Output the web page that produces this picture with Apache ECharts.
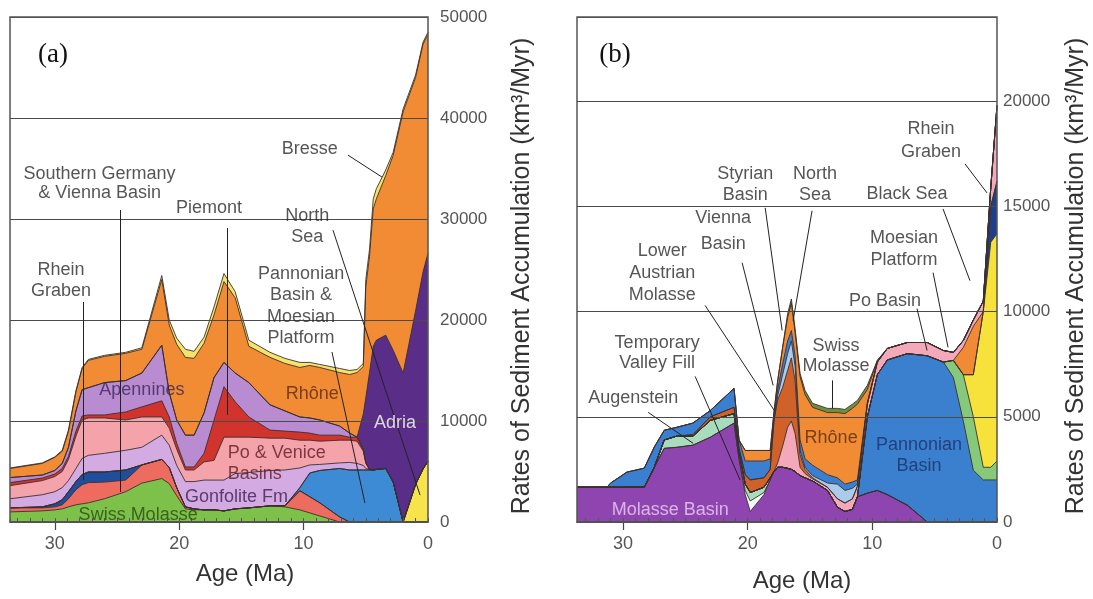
<!DOCTYPE html>
<html><head><meta charset="utf-8">
<script src="https://cdn.jsdelivr.net/npm/echarts@6/dist/echarts.min.js"></script>
<style>html,body{margin:0;padding:0;background:#fff}#c{width:1093px;height:599px}</style>
</head><body><div id="c"></div>
<script>
// ---------- Panel (a): ages (Ma) and layer thicknesses (km3/Myr) ----------
const agesA = [33.6,31,30,29.4,28.9,28.3,27.8,27.3,26,24.3,23,21.4,20.8,20.2,19.5,18.8,18,17.2,16.4,15.5,14.4,12.7,11.5,10.3,9.5,8.7,7.1,6.3,5.7,5.2,5.0,4.7,4.4,4.15,3.4,2.8,2.0,1.0,0.4,0];
const swissMolasseA = [1000,1100,1200,1300,1500,1700,1800,1900,2300,3000,3850,4300,3800,2600,1300,1200,1200,1200,1100,1300,1400,1600,1500,1200,900,600,0,0,0,0,0,0,0,0,0,0,0,0,0,0];
const sGermanyViennaA = [400,300,300,400,800,1500,1900,2000,1650,1150,1800,1900,1600,800,200,100,0,0,0,0,0,0,100,1900,1600,1300,500,0,0,0,0,0,0,0,0,0,0,0,0,0];
const rheinGrabenA = [0,100,300,500,700,800,1000,1050,1000,1000,0,0,0,0,0,0,0,0,0,0,0,0,0,0,0,0,0,0,0,0,0,0,0,0,0,0,0,0,0,0];
const pannonianA = [0,0,0,0,0,0,0,0,0,0,0,0,0,0,0,0,0,0,0,0,0,0,0,300,2350,3200,4800,5150,5150,5150,5150,5150,5150,5200,5300,3950,0,0,0,0];
const northSeaA = [0,0,0,0,0,0,0,0,0,0,0,0,0,0,0,0,0,0,0,0,0,0,0,0,0,0,0,0,0,0,0,0,0,0,0,0,0,3700,5250,6000];
const gonfoliteA = [900,1200,1200,1200,1100,1300,1600,1650,1850,1950,1750,2400,2200,2200,2500,2700,2950,2950,3050,3500,3500,3500,3550,1950,800,600,550,750,650,450,150,50,0,0,0,0,0,0,0,0];
const poVeniceA = [1300,1400,1500,1600,2100,3200,3800,3700,3500,3000,3000,1800,1700,1600,1150,1150,1800,1950,4250,3600,3500,3200,3150,2750,2450,2300,2250,2200,2200,1400,500,0,0,0,0,0,0,0,0,0];
const piemontA = [300,250,250,300,300,500,400,300,300,800,1000,1600,1100,600,300,300,850,4000,5000,3500,2000,800,700,800,700,600,500,300,400,200,100,0,0,0,0,0,0,0,0,0];
const apenninesA = [500,300,350,500,900,2000,2600,2700,3200,3100,3350,5500,2400,2300,3150,3150,4000,4200,2400,2850,3400,2500,2000,1500,1500,1500,900,400,0,0,0,0,0,0,0,0,0,0,0,0];
const adriaA = [0,0,0,0,0,0,0,0,0,0,0,0,0,0,0,0,0,0,0,0,0,0,0,0,0,0,0,0,0,3500,6400,9600,12250,12800,13200,13050,14750,17200,19500,20600];
const rhoneA = [900,1150,1300,1200,1600,1900,2100,2700,2600,2700,2350,6500,6700,7500,7700,7600,6900,6200,8000,7450,3600,4700,4700,4900,5200,5200,5300,5800,6400,4700,11000,11500,13600,14000,15800,19300,25850,23100,22550,21700];
const bresseA = [50,50,50,100,100,100,100,100,100,100,150,400,500,600,800,700,600,800,800,600,600,500,500,500,300,300,400,400,300,300,700,700,1000,1000,550,300,300,250,200,200];

// ---------- Panel (b) ----------
const agesB = [33.7,31.3,31.0,29.7,28.3,27.5,26.7,25.7,24.4,23.0,21.1,20.7,20.2,19.8,18.7,18.2,17.9,17.6,17.2,16.8,16.5,16.2,15.8,15.4,14.8,13.6,12.8,12.2,11.6,11.2,10.4,9.6,8.8,7.2,5.6,4.3,3.5,2.7,1.9,1.1,0.5,0];
const molasseBasinB = [1650,1650,1650,1650,1660,2600,3500,3550,3650,4030,4700,3000,1300,500,1300,2000,2400,2600,2600,2550,2500,2400,2200,2100,1950,1500,700,500,600,1200,1370,1500,1300,800,0,0,0,0,0,0,0,0];
const valleyFillB = [0,0,0,0,0,0,0,0,0,0,0,0,200,500,100,0,0,0,0,0,0,0,0,0,0,0,0,0,0,0,0,0,0,0,0,0,0,0,0,0,0,0];
const augensteinB = [0,0,0,0,0,0,400,530,430,800,450,300,300,400,250,100,0,0,0,0,0,0,0,0,0,0,0,0,0,0,0,0,0,0,0,0,0,0,0,0,0,0];
const pannonianB = [0,0,0,0,0,0,0,0,0,0,0,0,0,0,0,0,0,0,0,0,0,0,0,0,0,0,0,0,0,0,3630,5500,6400,7200,7900,7600,6870,4790,2460,2000,2000,2000];
const moesianB = [0,0,0,0,0,0,0,0,0,0,0,0,0,0,0,0,0,0,0,0,0,0,0,0,0,0,0,0,0,0,0,0,0,0,0,0,810,2210,2540,600,600,900];
const northSeaB = [0,0,0,0,0,0,0,0,0,0,0,0,0,0,0,0,0,0,0,0,0,0,0,0,0,0,0,0,0,0,0,0,0,0,0,0,0,0,2000,7400,10700,10800];
const rheinGrabenB = [0,0,0,0,0,0,0,0,0,0,0,0,0,0,0,0,0,0,0,0,0,0,0,0,0,0,0,0,0,0,0,0,0,0,0,0,0,0,0,0,1700,2500];
const blackSeaB = [0,0,0,0,0,0,0,0,0,0,0,0,0,0,0,0,0,0,0,0,0,0,0,0,0,0,0,0,0,0,0,0,0,0,0,0,0,1300,2300,0,0,0];
const poBasinB = [0,0,0,0,0,0,0,0,0,0,0,0,0,0,0,0,0,200,1000,1950,2300,1800,400,200,100,150,400,400,500,500,600,600,550,530,630,550,380,330,300,500,900,3600];
const lowerAustrianB = [0,0,0,0,0,0,0,0,70,170,300,200,450,600,450,400,2400,3000,2800,2700,3000,2500,600,200,50,0,0,0,0,0,0,0,0,0,0,0,0,0,0,0,0,0];
const viennaB = [0,0,0,0,0,0,0,0,0,0,0,0,0,0,0,0,0,200,600,800,800,700,200,100,100,200,700,600,500,100,0,0,0,0,0,0,0,0,0,0,0,0];
const styrianB = [0,0,200,720,900,960,460,420,550,300,900,400,650,900,800,500,200,300,500,600,500,500,500,400,500,400,300,300,300,200,100,0,0,0,0,0,0,0,0,0,0,0];
const rhoneB = [0,0,0,0,0,0,0,0,0,0,0,0,500,500,500,400,200,400,800,1100,1300,1100,3000,3050,2750,2950,3100,3350,3500,3600,600,80,0,0,0,0,0,0,0,0,0,0];
const swissMolasseB = [0,0,0,0,0,0,0,0,0,0,0,0,0,0,0,0,0,0,0,200,200,200,160,200,190,200,200,200,200,180,200,0,0,0,0,0,0,0,0,0,0,0];

// ---------- Tick labels ----------
const ageTicks = [0,10,20,30];
const yTicksA = [0,10000,20000,30000,40000,50000];
const yTicksB = [0,5000,10000,15000,20000];

// ---------- Annotations (data coordinates) ----------
const notesA = [
  {text:'Southern Germany\n& Vienna Basin', age:26.4, value:33560, lh:19},
  {text:'Piemont', age:17.6, value:31090},
  {text:'Rhein\nGraben', age:29.5, value:23860, lh:21},
  {text:'Bresse', age:9.5, value:36930},
  {text:'North\nSea', age:9.7, value:29300, lh:21},
  {text:'Pannonian\nBasin &\nMoesian\nPlatform', age:10.2, value:21380, lh:21.5},
  {text:'Apennines', age:23.0, value:13070, color:'#3b2757'},
  {text:'Rhône', age:9.3, value:12670, color:'#5a2a12'},
  {text:'Adria', age:2.65, value:9800, color:'#ffffff'},
  {text:'Po & Venice\nBasins', age:16.1, value:5740, color:'#5e1a22', align:'left', lh:21},
  {text:'Gonfolite Fm', age:15.4, value:2475, color:'#3a2050'},
  {text:'Swiss Molasse', age:23.3, value:700, color:'#2c4a12'}
];
const leadersA = [
  [[27.75,21780],[27.75,4160]],
  [[24.7,30890],[24.7,2970]],
  [[16.1,29100],[16.1,10590]],
  [[6.44,36330],[3.70,34150]],
  [[7.64,28900],[0.64,2670]],
  [[7.72,16830],[5.07,1880]]
];
const notesB = [
  {text:'Rhein\nGraben', age:5.29, value:18150, lh:23},
  {text:'Black Sea', age:7.22, value:15600},
  {text:'Moesian\nPlatform', age:7.46, value:12990, lh:22},
  {text:'Po Basin', age:8.98, value:10520},
  {text:'Styrian\nBasin', age:20.2, value:16020, lh:21},
  {text:'North\nSea', age:14.6, value:16020, lh:21},
  {text:'Vienna\nBasin', age:21.97, value:13840, lh:26},
  {text:'Lower\nAustrian\nMolasse', age:26.86, value:11850, lh:22},
  {text:'Temporary\nValley Fill', age:27.27, value:8010, lh:20},
  {text:'Augenstein', age:29.19, value:5880},
  {text:'Swiss\nMolasse', age:12.91, value:7870, lh:20},
  {text:'Rhône', age:13.31, value:3980, color:'#5a2a12'},
  {text:'Pannonian\nBasin', age:6.26, value:3180, color:'#1b3068', lh:21},
  {text:'Molasse Basin', age:26.22, value:570, color:'#ecd0f2'}
];
const leadersB = [
  [[2.57,17020],[0.80,15640]],
  [[4.33,14880],[2.17,11470]],
  [[5.13,11850],[3.93,8300]],
  [[6.42,10140],[5.61,8150]],
  [[13.23,6730],[13.23,5400]],
  [[23.42,10290],[17.88,5310]],
  [[20.45,12320],[17.96,6490]],
  [[18.6,14930],[17.24,9100]],
  [[14.84,14790],[16.36,9570]],
  [[24.22,6920],[20.61,1990]],
  [[27.99,5210],[24.38,3740]]
];

// ---------- Build chart ----------
const FONT = '"Liberation Sans", Arial, Helvetica, sans-serif';
const layersA = [
  ['Swiss Molasse', '#7dc14b', swissMolasseA],
  ['Southern Germany & Vienna Basin', '#ee6b60', sGermanyViennaA],
  ['Rhein Graben', '#1f4f9c', rheinGrabenA],
  ['Pannonian Basin & Moesian Platform', '#3d8bd4', pannonianA],
  ['North Sea', '#f7e34a', northSeaA],
  ['Gonfolite Fm', '#d4aae2', gonfoliteA],
  ['Po & Venice Basins', '#f4a3ab', poVeniceA],
  ['Piemont', '#d1342c', piemontA],
  ['Apennines', '#b98bd1', apenninesA],
  ['Adria', '#5a2d88', adriaA],
  ['Rhône', '#f28c34', rhoneA],
  ['Bresse', '#f6e46a', bresseA]
];
const layersB = [
  ['Molasse Basin', '#8f45b0', molasseBasinB],
  ['Temporary Valley Fill', '#f6f6f6', valleyFillB],
  ['Augenstein', '#a8dcbc', augensteinB],
  ['Pannonian Basin', '#3b80cf', pannonianB],
  ['Moesian Platform', '#86c97a', moesianB],
  ['North Sea', '#f7e23c', northSeaB],
  ['Rhein Graben', '#1d3f8c', rheinGrabenB],
  ['Black Sea', '#f08a34', blackSeaB],
  ['Po Basin', '#f3a9b9', poBasinB],
  ['Lower Austrian Molasse', '#cf6129', lowerAustrianB],
  ['Vienna Basin', '#aacbe9', viennaB],
  ['Styrian Basin', '#3a7fd0', styrianB],
  ['Rhône', '#f28c34', rhoneB],
  ['Swiss Molasse', '#6e8f3c', swissMolasseB]
];

// Stacked areas: each layer is drawn from 0 up to the running total of the layers
// below it plus itself; upper layers are listed first so lower layers paint over them.
function areaSeries(layers, ages, xi, yi) {
  const running = ages.map(() => 0);
  const built = layers.map(([name, color, vals]) => {
    const tops = vals.map((v, i) => (running[i] += v));
    return {
      type:'line', name, xAxisIndex:xi, yAxisIndex:yi,
      data: ages.map((a, i) => [a, tops[i]]),
      symbol:'none', showSymbol:false, silent:true,
      lineStyle:{color:'#3b3030', width:0.9},
      areaStyle:{color, opacity:1, origin:'start'}, z:2
    };
  });
  return built.reverse();
}
function noteSeries(notes, xi, yi) {
  return {
    type:'scatter', xAxisIndex:xi, yAxisIndex:yi, symbol:'circle', symbolSize:0, silent:true, z:6,
    data: notes.map(n => ({
      name:n.text, value:[n.age, n.value],
      label:{show:true, formatter:n.text, position: n.align==='left' ? 'right' : 'inside', distance:0,
        align: n.align || 'center', verticalAlign:'middle',
        color:n.color || '#2b2b2b', fontSize:18, fontFamily:FONT, lineHeight:n.lh || 20}
    }))
  };
}
function leaderSeries(leaders, xi, yi) {
  return {
    type:'lines', coordinateSystem:'cartesian2d', xAxisIndex:xi, yAxisIndex:yi, silent:true, z:5,
    lineStyle:{color:'#222', width:1, opacity:1},
    data: leaders.map(c => ({coords:c}))
  };
}
function xMain(gi, max) {
  return {type:'value', gridIndex:gi, min:0, max, inverse:true, interval:10, z:5,
    axisLine:{show:true, onZero:false, lineStyle:{color:'#444', width:1.5}},
    axisTick:{show:true, length:8, customValues:[10,20,30], lineStyle:{color:'#444', width:1.2}},
    axisLabel:{customValues:ageTicks, formatter:v => String(v), color:'#555', fontSize:18, fontFamily:FONT, margin:13},
    splitLine:{show:false}};
}
function xMinor(gi, max) {
  return {type:'value', gridIndex:gi, min:0, max, inverse:true, interval:1, position:'bottom', z:5,
    axisLine:{show:false}, axisTick:{show:true, inside:true, length:4, lineStyle:{color:'#555', width:1}},
    axisLabel:{show:false}, splitLine:{show:false}};
}
function yAxis(gi, max, interval, ticks, margin) {
  return {type:'value', gridIndex:gi, position:'right', min:0, max, interval, z:3,
    axisLine:{show:false}, axisTick:{show:false},
    axisLabel:{customValues:ticks, formatter:v => String(v), color:'#555', fontSize:17, fontFamily:FONT, margin},
    splitLine:{show:true, lineStyle:{color:'#4a4a4a', width:1}}};
}

const option = {
  animation:false,
  backgroundColor:'#ffffff',
  grid:[
    {left:10, top:17, width:418, height:505, show:true, borderColor:'#555', borderWidth:1.5, backgroundColor:'transparent', z:6},
    {left:577, top:17, width:420, height:505, show:true, borderColor:'#555', borderWidth:1.5, backgroundColor:'transparent', z:6}
  ],
  xAxis:[xMain(0,33.6), xMinor(0,33.6), xMain(1,33.7), xMinor(1,33.7)],
  yAxis:[yAxis(0,50000,10000,yTicksA,12), yAxis(1,24000,5000,yTicksB,6)],
  series:[
    ...areaSeries(layersA, agesA, 0, 0),
    ...areaSeries(layersB, agesB, 2, 1),
    leaderSeries(leadersA, 0, 0),
    leaderSeries(leadersB, 2, 1),
    noteSeries(notesA, 0, 0),
    noteSeries(notesB, 2, 1)
  ],
  graphic:[
    {type:'text', x:53, y:55, style:{text:'(a)', fontSize:27, fontFamily:'"Liberation Serif", "Times New Roman", serif', fill:'#111', align:'center', verticalAlign:'middle'}},
    {type:'text', x:615, y:55, style:{text:'(b)', fontSize:27, fontFamily:'"Liberation Serif", "Times New Roman", serif', fill:'#111', align:'center', verticalAlign:'middle'}},
    {type:'text', x:245, y:574, style:{text:'Age (Ma)', fontSize:24, fontFamily:FONT, fill:'#333', align:'center', verticalAlign:'middle'}},
    {type:'text', x:802, y:581, style:{text:'Age (Ma)', fontSize:24, fontFamily:FONT, fill:'#333', align:'center', verticalAlign:'middle'}},
    {type:'text', x:522, y:276, rotation:Math.PI/2, style:{text:'Rates of Sediment Accumulation (km³/Myr)', fontSize:25, fontFamily:FONT, fill:'#333', align:'center', verticalAlign:'middle'}},
    {type:'text', x:1076, y:276, rotation:Math.PI/2, style:{text:'Rates of Sediment Accumulation (km³/Myr)', fontSize:25, fontFamily:FONT, fill:'#333', align:'center', verticalAlign:'middle'}}
  ]
};
const chart = echarts.init(document.getElementById('c'), null, {renderer:'canvas'});
chart.setOption(option);
</script>
</body></html>
